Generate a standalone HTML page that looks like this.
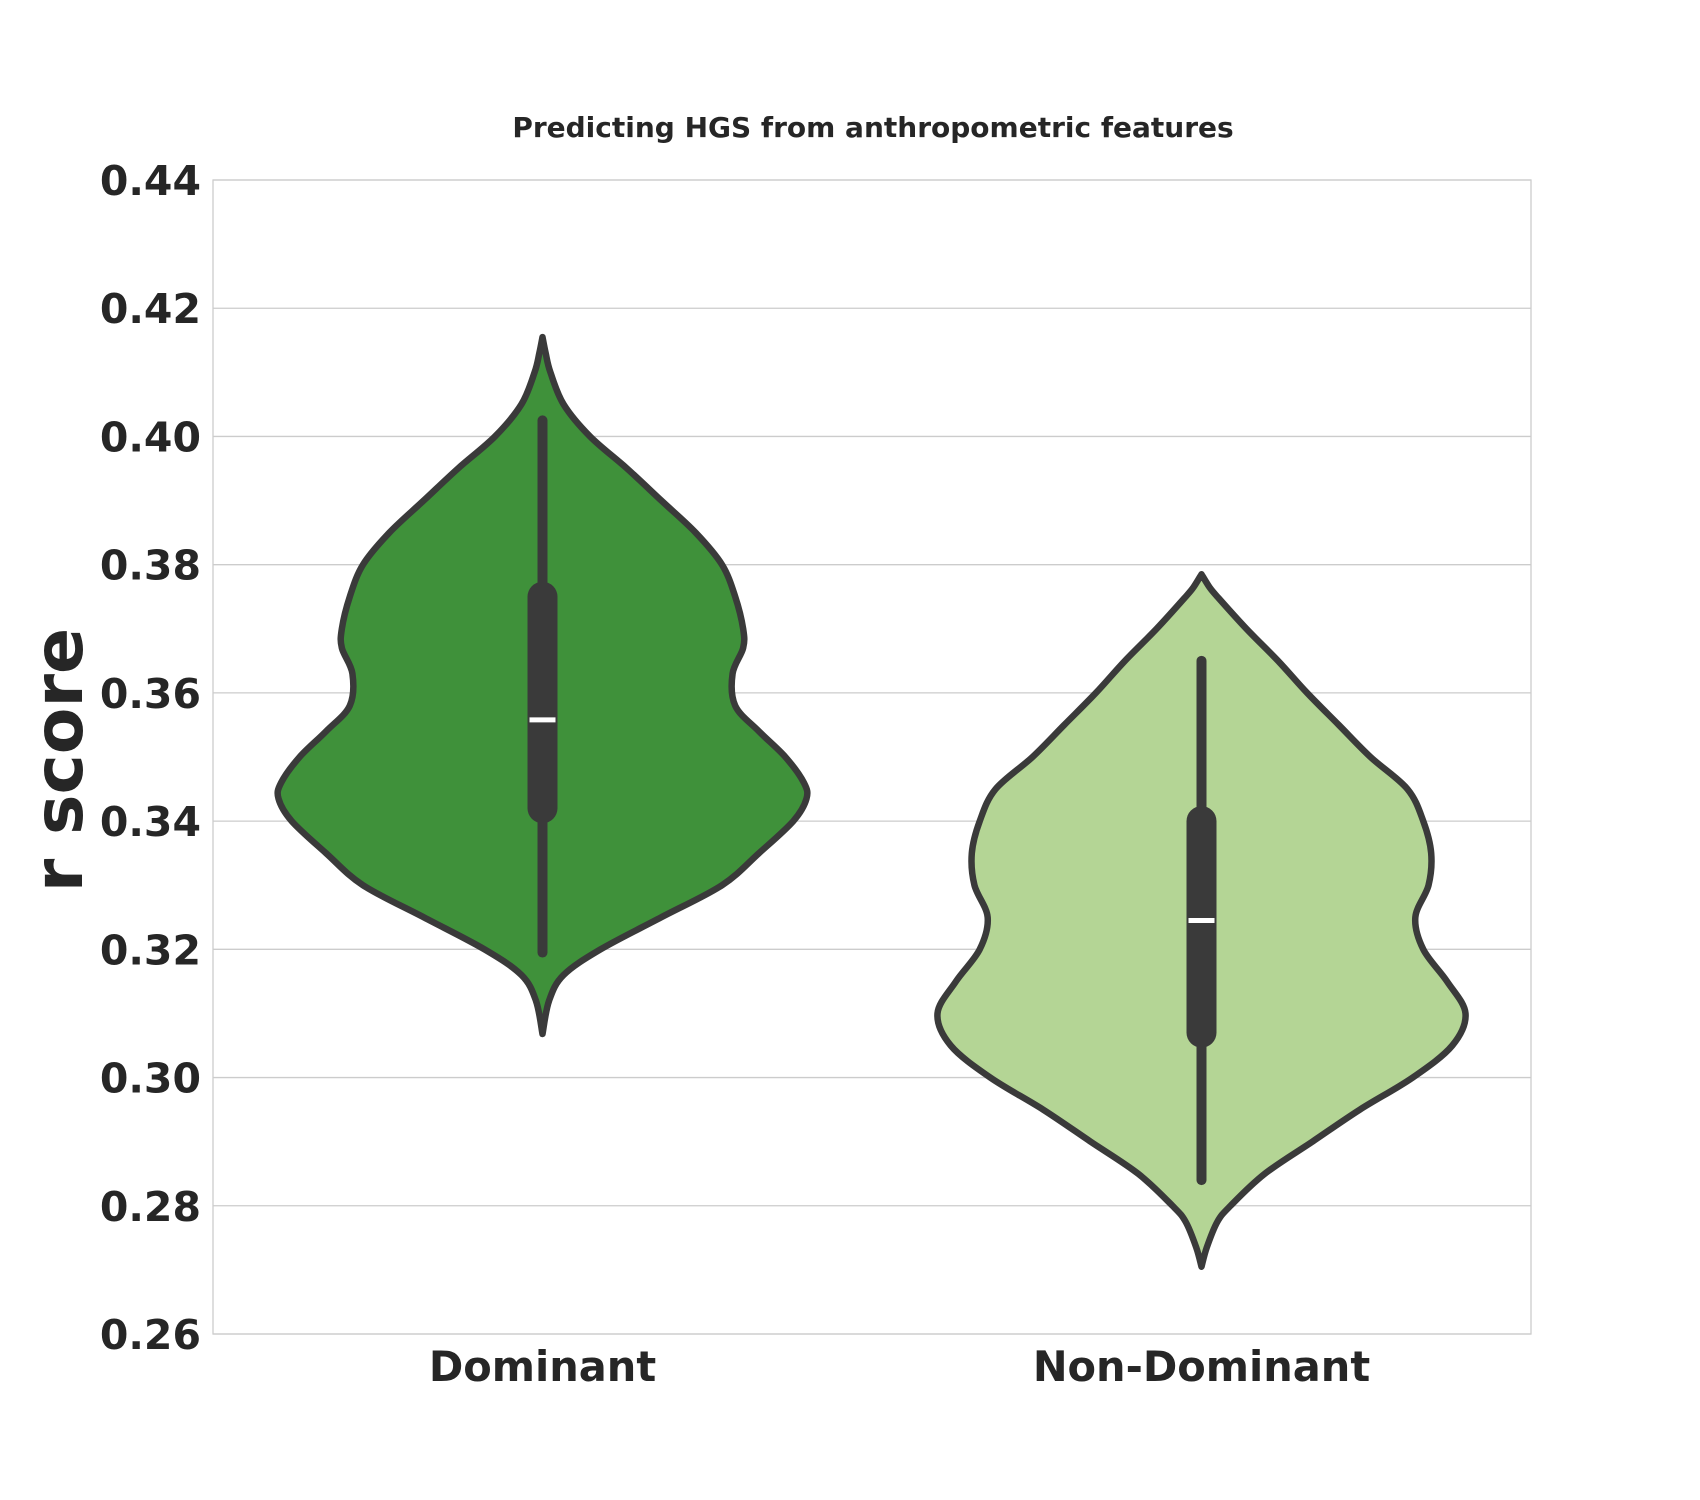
<!DOCTYPE html>
<html><head><meta charset="utf-8"><style>
html,body{margin:0;padding:0;background:#fff;}
svg{display:block;font-family:"DejaVu Sans","Liberation Sans",sans-serif;}
</style></head><body>
<svg id="chart" width="1700" height="1500" viewBox="0 0 1700 1500">
<text x="873" y="137" text-anchor="middle" font-size="28" font-weight="bold" fill="#262626">Predicting HGS from anthropometric features</text>
<g id="grid"></g>
<g id="yticks"></g>
<g id="violins"></g>
<g id="xticks"></g>
<text transform="translate(82,760) rotate(-90)" text-anchor="middle" font-size="68" font-weight="bold" fill="#262626">r score</text>
</svg>
<script>
const categories = ["Dominant","Non-Dominant"];
const yTicks = [0.26,0.28,0.30,0.32,0.34,0.36,0.38,0.40,0.42,0.44];
const domY = [0.4155,0.413,0.41,0.405,0.40,0.395,0.39,0.385,0.38,0.375,0.37,0.367,0.363,0.358,0.354,0.35,0.346,0.3435,0.34,0.335,0.33,0.325,0.32,0.316,0.312,0.3068];
const domW = [0,0.012,0.03,0.08,0.18,0.32,0.45,0.58,0.68,0.73,0.76,0.76,0.72,0.73,0.82,0.92,0.99,1.0,0.95,0.82,0.68,0.45,0.22,0.08,0.025,0];
const nonY = [0.3785,0.3765,0.375,0.37,0.365,0.36,0.355,0.35,0.345,0.34,0.335,0.33,0.325,0.32,0.315,0.31,0.305,0.30,0.295,0.29,0.285,0.28,0.2775,0.2735,0.2705];
const nonW = [0,0.03,0.06,0.17,0.29,0.40,0.52,0.64,0.78,0.84,0.87,0.86,0.81,0.84,0.93,1.0,0.95,0.80,0.60,0.42,0.24,0.11,0.06,0.02,0];
const whiskerLo = [0.3195,0.284];
const whiskerHi = [0.4025,0.365];
const q1 = [0.342,0.307];
const q3 = [0.375,0.340];
const medians = [0.3558,0.3245];
const fills = ["#3f913a","#b4d595"];

const NS="http://www.w3.org/2000/svg";
const L=213,R=1531,T=180,B=1334,yMin=0.26,yMax=0.44;
const yS=v=>B-(v-yMin)/(yMax-yMin)*(B-T);
const xS=i=>L+(i+0.5)/categories.length*(R-L);
const halfMax=264;
function mk(tag,attrs,parent){const e=document.createElementNS(NS,tag);for(const k in attrs)e.setAttribute(k,attrs[k]);parent.appendChild(e);return e;}
const grid=document.getElementById('grid'),yt=document.getElementById('yticks'),vg=document.getElementById('violins'),xt=document.getElementById('xticks');
yTicks.forEach(t=>{
  const l=mk('line',{x1:L,x2:R,y1:yS(t),y2:yS(t),stroke:'#cccccc','stroke-width':1.3},grid);
  
  
  const tx=mk('text',{x:201,y:yS(t)+15,'text-anchor':'end','font-size':41,'font-weight':'bold',fill:'#262626'},yt);
  tx.textContent=t.toFixed(2);
  
  
});
const fr=mk('rect',{x:L,y:T,width:R-L,height:B-T,fill:'none',stroke:'#cccccc','stroke-width':1.3},grid);


function smooth(pts){let d=`M${pts[0][0]},${pts[0][1]}`;for(let i=0;i<pts.length-1;i++){const p0=pts[Math.max(0,i-1)],p1=pts[i],p2=pts[i+1],p3=pts[Math.min(pts.length-1,i+2)];d+=` C${p1[0]+(p2[0]-p0[0])/6},${p1[1]+(p2[1]-p0[1])/6} ${p2[0]-(p3[0]-p1[0])/6},${p2[1]-(p3[1]-p1[1])/6} ${p2[0]},${p2[1]}`;}return d;}
[[domY,domW],[nonY,nonW]].forEach(([ys,ws],i)=>{
  const cx=xS(i);
  const right=ys.map((y,k)=>[cx+ws[k]*halfMax,yS(y)]);
  const left=ys.map((y,k)=>[cx-ws[k]*halfMax,yS(y)]).reverse();
  const d=smooth(right)+' '+smooth(left).replace(/^M/,'L')+' Z';
  const p=mk('path',{d:d,fill:fills[i],stroke:'#3a3a3a','stroke-width':6.5,'stroke-linejoin':'round'},vg);
  
  
  const w=mk('line',{x1:cx,x2:cx,y1:yS(whiskerLo[i]),y2:yS(whiskerHi[i]),stroke:'#3a3a3a','stroke-width':10,'stroke-linecap':'round'},vg);
  
  
  const b=mk('line',{x1:cx,x2:cx,y1:yS(q1[i]),y2:yS(q3[i]),stroke:'#3a3a3a','stroke-width':30,'stroke-linecap':'round'},vg);
  
  
  const m=mk('line',{x1:cx-13,x2:cx+13,y1:yS(medians[i]),y2:yS(medians[i]),stroke:'#ffffff','stroke-width':5},vg);
  
  
  const t=mk('text',{x:cx,y:1381,'text-anchor':'middle','font-size':41.5,'font-weight':'bold',fill:'#262626'},xt);
  t.textContent=categories[i];
  
  
});
</script>
</body></html>
